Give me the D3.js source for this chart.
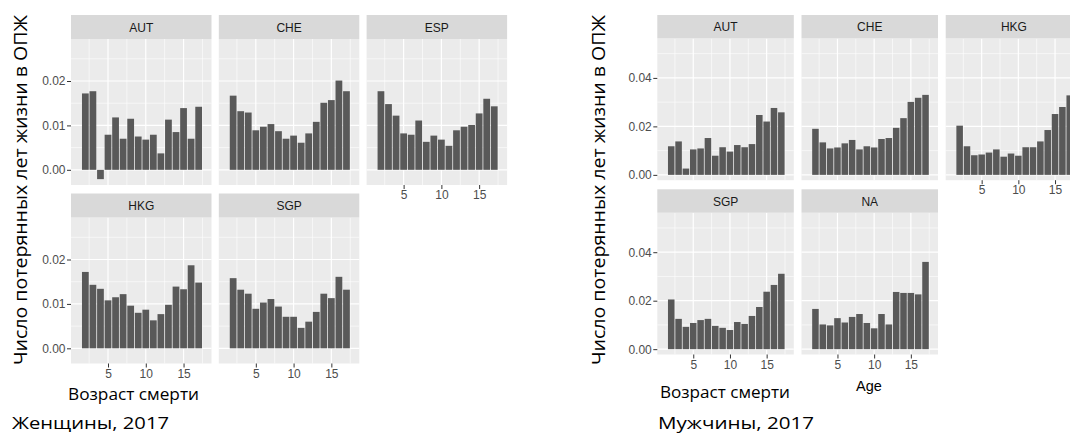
<!DOCTYPE html>
<html>
<head>
<meta charset="utf-8">
<script src="https://cdn.jsdelivr.net/npm/d3@7"></script>
<style>
  html, body { margin: 0; padding: 0; background: #fff; }
  svg { display: block; }
</style>
</head>
<body>
<svg id="chart" width="1070" height="441"></svg>
<script>
// ---------- data ----------
const ages = [2, 3, 4, 5, 6, 7, 8, 9, 10, 11, 12, 13, 14, 15, 16, 17];
const xTicks = [5, 10, 15];
const xMinor = [2.5, 7.5, 12.5, 17.5];

const femaleTicks = [0, 0.01, 0.02];
const femaleMinor = [0.005, 0.015, 0.025];
const maleTicks = [0, 0.02, 0.04];
const maleMinor = [0.01, 0.03, 0.05];

const femaleAUT = [0.0172, 0.0177, -0.0021, 0.0079, 0.0118, 0.0070, 0.0115, 0.0075, 0.0068, 0.0079, 0.0037, 0.0113, 0.0085, 0.0139, 0.0070, 0.0142];
const femaleCHE = [0.0167, 0.0132, 0.0129, 0.0089, 0.0097, 0.0103, 0.0087, 0.0070, 0.0077, 0.0061, 0.0082, 0.0108, 0.0151, 0.0157, 0.0201, 0.0177];
const femaleESP = [0.0177, 0.0148, 0.0122, 0.0082, 0.0079, 0.0111, 0.0063, 0.0077, 0.0068, 0.0054, 0.0089, 0.0097, 0.0101, 0.0127, 0.0160, 0.0143];
const femaleHKG = [0.0172, 0.0143, 0.0134, 0.0108, 0.0115, 0.0122, 0.0096, 0.0080, 0.0087, 0.0063, 0.0077, 0.0098, 0.0139, 0.0133, 0.0187, 0.0148];
const femaleSGP = [0.0158, 0.0132, 0.0123, 0.0089, 0.0103, 0.0111, 0.0094, 0.0071, 0.0071, 0.0046, 0.0060, 0.0082, 0.0123, 0.0113, 0.0161, 0.0132];

const maleAUT = [0.0118, 0.0138, 0.0026, 0.0105, 0.0109, 0.0152, 0.0079, 0.0114, 0.0096, 0.0123, 0.0114, 0.0127, 0.0247, 0.0220, 0.0276, 0.0258];
const maleCHE = [0.0190, 0.0134, 0.0109, 0.0113, 0.0130, 0.0144, 0.0105, 0.0118, 0.0113, 0.0148, 0.0152, 0.0194, 0.0234, 0.0301, 0.0318, 0.0330];
const maleHKG = [0.0203, 0.0118, 0.0081, 0.0084, 0.0092, 0.0105, 0.0075, 0.0088, 0.0079, 0.0114, 0.0114, 0.0138, 0.0185, 0.0251, 0.0280, 0.0328];
const maleSGP = [0.0205, 0.0125, 0.0092, 0.0108, 0.0120, 0.0125, 0.0096, 0.0088, 0.0079, 0.0112, 0.0104, 0.0137, 0.0174, 0.0237, 0.0265, 0.0311];
const maleNA  = [0.0166, 0.0102, 0.0098, 0.0128, 0.0110, 0.0133, 0.0145, 0.0108, 0.0086, 0.0145, 0.0102, 0.0236, 0.0232, 0.0232, 0.0226, 0.0360];

const yTitle = "Число потерянных лет жизни в ОПЖ";
const xTitle = "Возраст смерти";

// ---------- drawing ----------
const svg = d3.select("#chart");
const tickFont = "'Liberation Sans', Arial, sans-serif";
const noteFont = "'Open Sans', 'Noto Sans', sans-serif";

function facet(cfg) {
  const g = svg.append("g");
  const x = d3.scaleLinear().domain([0.1, 18.7]).range([0, cfg.pw]);
  const y = d3.scaleLinear().domain(cfg.yDomain).range([cfg.ph, 0]);
  const unit = x(1) - x(0);

  cfg.panels.forEach(p => {
    const px = cfg.x0 + p.col * (cfg.pw + cfg.gap);
    const sy = cfg.rowTops[p.row];
    const py = sy + cfg.sh;
    const pg = g.append("g").attr("transform", `translate(${px},${py})`);

    // strip
    g.append("rect").attr("x", px).attr("y", sy).attr("width", cfg.pw).attr("height", cfg.sh).attr("fill", "#D9D9D9");
    g.append("text").attr("x", px + cfg.pw / 2).attr("y", sy + cfg.sh / 2 + 0.5)
      .attr("text-anchor", "middle").attr("dominant-baseline", "central")
      .attr("font-family", tickFont).attr("font-size", 12).attr("fill", "#1A1A1A").text(p.name);

    // panel background
    pg.append("rect").attr("width", cfg.pw).attr("height", cfg.ph).attr("fill", "#EBEBEB");
    // minor grid
    cfg.yMinor.forEach(v => {
      if (y(v) < 0 || y(v) > cfg.ph) return;
      pg.append("line").attr("x1", 0).attr("x2", cfg.pw).attr("y1", y(v)).attr("y2", y(v)).attr("stroke", "#fff").attr("stroke-width", 0.6);
    });
    xMinor.forEach(v => {
      pg.append("line").attr("y1", 0).attr("y2", cfg.ph).attr("x1", x(v)).attr("x2", x(v)).attr("stroke", "#fff").attr("stroke-width", 0.6);
    });
    // major grid
    cfg.yTicks.forEach(v => {
      pg.append("line").attr("x1", 0).attr("x2", cfg.pw).attr("y1", y(v)).attr("y2", y(v)).attr("stroke", "#fff").attr("stroke-width", 1.2);
    });
    xTicks.forEach(v => {
      pg.append("line").attr("y1", 0).attr("y2", cfg.ph).attr("x1", x(v)).attr("x2", x(v)).attr("stroke", "#fff").attr("stroke-width", 1.2);
    });

    // bars
    pg.selectAll("rect.bar").data(ages.map((a, i) => ({ a, v: p.values[i] })))
      .enter().append("rect").attr("class", "bar")
      .attr("x", d => x(d.a) - unit / 2 + 0.4)
      .attr("width", unit - 0.8)
      .attr("y", d => y(Math.max(0, d.v)))
      .attr("height", d => Math.abs(y(d.v) - y(0)))
      .attr("fill", "#595959");

    // y axis
    if (p.col === 0) {
      const ya = d3.axisLeft(y).tickValues(cfg.yTicks).tickFormat(d3.format(".2f")).tickSize(4).tickPadding(1.5);
      const ag = pg.append("g").call(ya);
      ag.select(".domain").remove();
      ag.selectAll("line").attr("stroke", "#333");
      ag.selectAll("text").attr("font-family", tickFont).attr("font-size", 12).attr("fill", "#4D4D4D");
    }
    // x axis
    if (p.showX) {
      const xa = d3.axisBottom(x).tickValues(xTicks).tickSize(4).tickPadding(1.5);
      const ag = pg.append("g").attr("transform", `translate(0,${cfg.ph})`).call(xa);
      ag.select(".domain").remove();
      ag.selectAll("line").attr("stroke", "#333");
      ag.selectAll("text").attr("font-family", tickFont).attr("font-size", 12).attr("fill", "#4D4D4D");
    }
  });
}

// women
facet({
  x0: 71, pw: 140.5, gap: 7.3,
  rowTops: [15, 193.5], sh: 24, ph: 146,
  yDomain: [-0.00342, 0.02946], yTicks: femaleTicks, yMinor: femaleMinor,
  panels: [
    { name: "AUT", values: femaleAUT, col: 0, row: 0, showX: false },
    { name: "CHE", values: femaleCHE, col: 1, row: 0, showX: false },
    { name: "ESP", values: femaleESP, col: 2, row: 0, showX: true },
    { name: "HKG", values: femaleHKG, col: 0, row: 1, showX: true },
    { name: "SGP", values: femaleSGP, col: 1, row: 1, showX: true }
  ]
});

// men
facet({
  x0: 657.3, pw: 136.5, gap: 7.7,
  rowTops: [15, 189.3], sh: 23.4, ph: 141.8,
  yDomain: [-0.0022, 0.0563], yTicks: maleTicks, yMinor: maleMinor,
  panels: [
    { name: "AUT", values: maleAUT, col: 0, row: 0, showX: false },
    { name: "CHE", values: maleCHE, col: 1, row: 0, showX: false },
    { name: "HKG", values: maleHKG, col: 2, row: 0, showX: true },
    { name: "SGP", values: maleSGP, col: 0, row: 1, showX: true },
    { name: "NA",  values: maleNA,  col: 1, row: 1, showX: true }
  ]
});

// "Age" ggplot axis title (men chart)
svg.append("text").attr("x", 869).attr("y", 391).attr("text-anchor", "middle")
  .attr("font-family", tickFont).attr("font-size", 14.5).attr("fill", "#000").text("Age");

// annotations
function vtitle(cx, cy, len) {
  svg.append("text").attr("transform", `translate(${cx},${cy}) rotate(-90)`)
    .attr("text-anchor", "middle").attr("font-family", noteFont).attr("font-size", 17.5)
    .attr("fill", "#000").attr("textLength", len).attr("lengthAdjust", "spacingAndGlyphs").text(yTitle);
}
vtitle(27, 190, 350);
vtitle(605, 190, 350);

function note(x, yb, len, size, txt) {
  svg.append("text").attr("x", x).attr("y", yb).attr("font-family", noteFont).attr("font-size", size)
    .attr("fill", "#000").attr("textLength", len).attr("lengthAdjust", "spacingAndGlyphs").text(txt);
}
note(68, 400, 131, 15.5, xTitle);
note(660, 398, 130, 16.5, xTitle);
note(12, 429, 157, 17, "Женщины, 2017");
note(658, 429, 156, 17, "Мужчины, 2017");
</script>
</body>
</html>
